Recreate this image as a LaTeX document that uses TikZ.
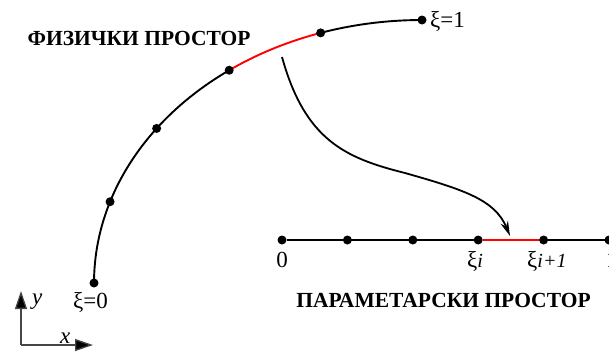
\documentclass[tikz,border=0pt]{standalone}
\usepackage{fontspec}
\setmainfont{Liberation Serif}
\usetikzlibrary{arrows.meta}
\definecolor{segred}{RGB}{255,0,0}
\definecolor{axisgray}{RGB}{70,70,70}
\tikzset{
  dot/.style={circle, fill=black, inner sep=0pt, minimum size=9pt},
  curveline/.style={line width=1.9pt},
  redline/.style={line width=1.9pt, draw=segred},
  title/.style={font=\fontsize{21.5}{24}\selectfont\bfseries, inner sep=0pt},
  lbl/.style={font=\fontsize{23}{26}\selectfont, inner sep=0pt},
  axis/.style={line width=1.3pt, draw=axisgray, -{Triangle[length=18pt,width=12pt,fill=black]}},
}
\begin{document}
\begin{tikzpicture}[x=1pt,y=-1pt]
\useasboundingbox (0,0) rectangle (609,351);
% physical space curve (elliptic arc)
\draw[curveline] plot[domain=180:126, samples=60] ({422+328*cos(\x)},{283-263*sin(\x)});
\draw[redline] plot[domain=126:108, samples=30] ({422+328*cos(\x)},{283-263*sin(\x)});
\draw[curveline] plot[domain=108:90, samples=30] ({422+328*cos(\x)},{283-263*sin(\x)});
\foreach \t/\n in {180/c0,162/c1,144/c2,126/c3,108/c4,90/c5}
  \node[dot] (\n) at ({422+328*cos(\t)},{283-263*sin(\t)}) {};
\node[lbl, anchor=base west] (l0) at (73,308) {ξ=0};
\node[lbl, anchor=base west] (l1) at (430,27) {ξ=1};
\node[title, anchor=base] (t1) at (139,45) {ФИЗИЧКИ ПРОСТОР};
% parameter space
\coordinate (pend) at (612,240);
\node[dot] (q0) at (282,240) {};
\node[dot] (q1) at (347.4,240) {};
\node[dot] (q2) at (412.8,240) {};
\node[dot] (q3) at (478.2,240) {};
\node[dot] (q4) at (543.6,240) {};
\node[dot] (q5) at (609,240) {};
\draw[curveline] (q0) -- (q3);
\draw[redline] (q3) -- (q4);
\draw[curveline] (q4) -- (pend);
\node[lbl, anchor=base] (m0) at (282,267) {0};
\node[lbl, anchor=base west] (mi) at (467,267) {ξ{\itshape\fontsize{20}{22}\selectfont i}};
\node[lbl, anchor=base west] (mi1) at (527,267) {ξ{\itshape\fontsize{20}{22}\selectfont i+1}};
\node[lbl, anchor=base west] (m1) at (606,267) {1};
\node[title, anchor=base] (t2) at (443.5,307) {ПАРАМЕТАРСКИ ПРОСТОР};
% mapping arrow
\coordinate (as) at (282,57);
\coordinate (am) at (405,173);
\coordinate (ae) at (510,236);
\draw[line width=1.8pt, -{Stealth[length=15pt,width=8pt]}] (as) .. controls (305,140) and (345,158) .. (am) .. controls (465,190) and (495,200) .. (ae);
% axes
\coordinate (o) at (21,345);
\coordinate (ox) at (93,345);
\coordinate (oy) at (21,291);
\draw[axis] (o) -- (oy);
\draw[axis] (o) -- (ox);
\node[lbl, font=\fontsize{23}{26}\selectfont\itshape, anchor=base west] (ly) at (32,304) {y};
\node[lbl, font=\fontsize{23}{26}\selectfont\itshape, anchor=base west] (lx) at (60,343) {x};
\end{tikzpicture}
\end{document}
